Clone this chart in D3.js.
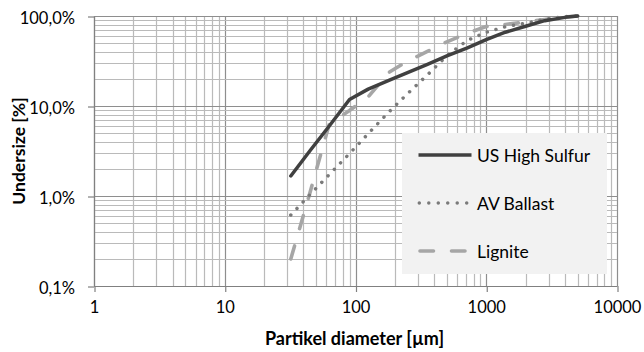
<!DOCTYPE html>
<html><head><meta charset="utf-8">
<script src="https://cdn.jsdelivr.net/npm/d3@7"></script>
<style>body{margin:0;background:#fff}svg{display:block}</style>
</head><body><svg id="c" width="644" height="352"></svg>
<script>
// ---- data ----
const diameters   = [32, 45, 63, 90, 125, 180, 250, 355, 500, 710, 1000, 1400, 2000, 2800, 4000, 5000];
const usHighSulfur = [1.67, 3.2, 6.0, 11.8, 15.4, 19.3, 23.5, 29, 36, 44, 54.5, 66, 77, 88.7, 96.6, 100];
const avBallast    = [0.615, 1.04, 1.73, 2.96, 4.92, 8.58, 13.7, 22.2, 36.1, 53.2, 66, 76, 83, 92, 98.4, 100];
const lignite      = [0.2, 1.11, 6.3, 8.9, 12.6, 23.6, 31.6, 40.4, 51.6, 64, 76.5, 80.5, 85.8, 91.4, 97.5, 100];
const seriesNames  = ["US High Sulfur", "AV Ballast", "Lignite"];
const xTickValues  = [1, 10, 100, 1000, 10000];
const xTickLabels  = ["1", "10", "100", "1000", "10000"];
const yTickValues  = [0.1, 1, 10, 100];
const yTickLabels  = ["0,1%", "1,0%", "10,0%", "100,0%"];
const xTitle = "Partikel diameter [µm]";
const yTitle = "Undersize [%]";

// ---- chart ----
const svg = d3.select("#c");
const P = {l: 94, r: 617, t: 16, b: 286};
const x = d3.scaleLog().domain([1, 10000]).range([P.l, P.r]);
const y = d3.scaleLog().domain([0.1, 100]).range([P.b, P.t]);
const font = "Lato, 'Open Sans', sans-serif";
const crisp = v => Math.round(v) + 0.5;

svg.append("rect").attr("width", 644).attr("height", 352).attr("fill", "#fff");

// grid
const grid = svg.append("g");
const xg = x.ticks(), yg = y.ticks();
const isMajor = v => Math.abs(Math.log10(v) - Math.round(Math.log10(v))) < 1e-9;
grid.selectAll("line.vx").data(xg).join("line")
  .attr("x1", d => crisp(x(d))).attr("x2", d => crisp(x(d)))
  .attr("y1", P.t).attr("y2", P.b)
  .attr("stroke", d => isMajor(d) ? "#8e8e8e" : "#bababa").attr("stroke-width", 1.2);
grid.selectAll("line.hy").data(yg).join("line")
  .attr("y1", d => crisp(y(d))).attr("y2", d => crisp(y(d)))
  .attr("x1", P.l).attr("x2", P.r)
  .attr("stroke", d => isMajor(d) ? "#8e8e8e" : "#bababa").attr("stroke-width", 1.2);

// axes
const xAxis = d3.axisBottom(x).tickValues(xTickValues)
  .tickFormat((d, i) => xTickLabels[i]).tickSizeInner(6).tickSizeOuter(0).tickPadding(9);
const yAxis = d3.axisLeft(y).tickValues(yTickValues)
  .tickFormat((d, i) => yTickLabels[i]).tickSizeInner(6).tickSizeOuter(0).tickPadding(13);
const gxA = svg.append("g").attr("transform", `translate(0,${crisp(P.b) - 0.5})`).call(xAxis);
const gyA = svg.append("g").attr("transform", `translate(${crisp(P.l) - 0.5},0)`).call(yAxis);
[gxA, gyA].forEach(g => {
  g.select(".domain").attr("stroke", "#808080").attr("stroke-width", 1.2);
  g.selectAll(".tick line").attr("stroke", "#808080").attr("stroke-width", 1.2);
  g.selectAll(".tick text").attr("fill", "#000").style("font-family", font).style("font-size", "16.5px");
});
gxA.selectAll(".tick line").attr("transform", "translate(0.5,0)");
gyA.selectAll(".tick line").attr("transform", "translate(0,0.5)");
gyA.selectAll(".tick text").attr("dy", "0.38em").attr("y", 1.5);

// axis titles
svg.append("text").attr("x", (P.l + P.r) / 2 - 1).attr("y", 345)
  .attr("text-anchor", "middle").style("font-family", font).style("font-size", "18px")
  .style("font-weight", "bold").text(xTitle);
svg.append("text").attr("transform", `translate(25,${(P.t + P.b) / 2}) rotate(-90)`)
  .attr("text-anchor", "middle").style("font-family", font).style("font-size", "17.5px")
  .style("font-weight", "bold").text(yTitle);

// series
const styles = [
  {color: "#404040", width: 3.5, dash: null, cap: "round"},
  {color: "#7a7a7a", width: 3.5, dash: "0.01 9", cap: "round"},
  {color: "#a6a6a6", width: 3.6, dash: "13.5 18", cap: "round"}
];
const seriesVals = [usHighSulfur, avBallast, lignite];
const line = d3.line().x(d => x(d[0])).y(d => y(d[1]));
const drawOrder = [2, 1, 0];
drawOrder.forEach(si => {
  const pts = diameters.map((dm, i) => [dm, seriesVals[si][i]]);
  const s = styles[si];
  svg.append("path").attr("d", line(pts)).attr("fill", "none")
    .attr("stroke", s.color).attr("stroke-width", s.width)
    .attr("stroke-linecap", s.cap).attr("stroke-linejoin", "round")
    .attr("stroke-dasharray", s.dash);
});

// legend
const lg = svg.append("g");
lg.append("rect").attr("x", 402).attr("y", 133).attr("width", 205).attr("height", 141).attr("fill", "#f2f2f2");
const legY = [155, 203, 251];
const legX = [[418.5, 471.5], [419.3, 467], [420, 470]];
seriesNames.forEach((name, i) => {
  const s = styles[i];
  lg.append("line").attr("x1", legX[i][0]).attr("x2", legX[i][1]).attr("y1", legY[i]).attr("y2", legY[i])
    .attr("stroke", s.color).attr("stroke-width", s.width).attr("stroke-linecap", i === 0 ? "butt" : "round")
    .attr("stroke-dasharray", i === 1 ? "0.01 9.47" : s.dash);
  lg.append("text").attr("x", 477).attr("y", legY[i] + 6.5)
    .style("font-family", font).style("font-size", "17.5px").attr("fill", "#000").text(name);
});
</script></body></html>
